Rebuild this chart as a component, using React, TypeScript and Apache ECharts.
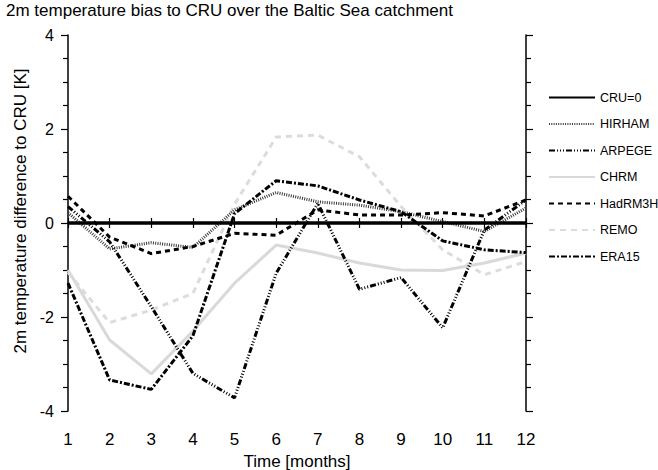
import React, { useEffect, useRef } from "react";
import * as echarts from "echarts";

const months = [1, 2, 3, 4, 5, 6, 7, 8, 9, 10, 11, 12];
const cru = [0, 0, 0, 0, 0, 0, 0, 0, 0, 0, 0, 0];
const hirham = [0.22, -0.55, -0.42, -0.52, 0.28, 0.65, 0.45, 0.38, 0.24, 0.03, -0.18, 0.32];
const arpege = [0.35, -0.4, -1.78, -3.2, -3.72, -1.07, 0.42, -1.41, -1.16, -2.23, -0.15, 0.49];
const chrm = [-1.0, -2.49, -3.21, -2.3, -1.28, -0.47, -0.64, -0.85, -1.0, -1.01, -0.85, -0.64];
const hadrm3h = [0.57, -0.3, -0.65, -0.5, -0.22, -0.26, 0.28, 0.17, 0.17, 0.22, 0.15, 0.49];
const remo = [-1.05, -2.12, -1.85, -1.5, 0.4, 1.83, 1.87, 1.41, 0.35, -0.57, -1.1, -0.82];
const era15 = [-1.28, -3.34, -3.54, -2.4, 0.2, 0.9, 0.79, 0.49, 0.24, -0.38, -0.57, -0.63];
const yTicks = [-4, -2, 0, 2, 4];

const FONT = "Liberation Sans";

export default function App() {
  const ref = useRef<HTMLDivElement>(null);
  useEffect(() => {
    if (!ref.current) return;
    const chart = echarts.init(ref.current, null, { renderer: "svg" });
    const pts = (arr: number[]) => months.map((m, i) => [m, arr[i]]);
    const mk = (name: string, arr: number[], color: string, width: number, type: any, z = 2) => ({
      name,
      type: "line",
      data: pts(arr),
      showSymbol: false,
      symbol: "none",
      z,
      lineStyle: { color, width, type },
      itemStyle: { color },
    });
    const axisLine = { show: true, lineStyle: { color: "#000", width: 1.5 } };
    const tick = { show: true, length: 5, lineStyle: { color: "#000", width: 1.2 } };
    chart.setOption({
      animation: false,
      title: {
        text: "2m temperature bias to CRU over the Baltic Sea catchment",
        left: 6,
        top: 2,
        padding: 0,
        textStyle: { fontFamily: FONT, fontSize: 17, fontWeight: "normal", color: "#000" },
      },
      legend: {
        orient: "vertical",
        left: 548,
        top: 91,
        padding: 0,
        itemWidth: 46,
        itemHeight: 12,
        itemGap: 13.5,
        itemStyle: { opacity: 0 },
        textStyle: { fontFamily: FONT, fontSize: 12.5, color: "#000" },
        data: ["CRU=0", "HIRHAM", "ARPEGE", "CHRM", "HadRM3H", "REMO", "ERA15"],
      },
      grid: { left: 68, right: 132, top: 35, bottom: 59, containLabel: false, outerBoundsMode: "none" },
      xAxis: [
        {
          type: "value",
          min: 1,
          max: 12,
          interval: 1,
          axisLine,
          axisTick: tick,
          axisLabel: { margin: 20, fontFamily: FONT, fontSize: 17, color: "#000" },
          splitLine: { show: false },
          name: "Time [months]",
          nameLocation: "middle",
          nameGap: 42,
          nameTextStyle: { fontFamily: FONT, fontSize: 17, color: "#000" },
        },
        {
          type: "value",
          position: "top",
          min: 1,
          max: 12,
          interval: 1,
          axisLine,
          axisTick: tick,
          axisLabel: { show: false },
          splitLine: { show: false },
        },
      ],
      yAxis: [
        {
          type: "value",
          min: yTicks[0],
          max: yTicks[yTicks.length - 1],
          interval: 2,
          axisLine,
          axisTick: { show: true, length: 7, lineStyle: { color: "#000", width: 1.2 } },
          minorTick: { show: true, splitNumber: 4, length: 5, lineStyle: { color: "#000", width: 1.2 } },
          axisLabel: { margin: 14, fontFamily: FONT, fontSize: 16, color: "#000" },
          splitLine: { show: false },
          name: "2m temperature difference to CRU [K]",
          nameLocation: "middle",
          nameGap: 39,
          nameTextStyle: { fontFamily: FONT, fontSize: 17, color: "#000", padding: [0, 0, 0, 24] },
        },
        {
          type: "value",
          position: "right",
          min: yTicks[0],
          max: yTicks[yTicks.length - 1],
          interval: 2,
          axisLine,
          axisTick: { show: true, length: 7, lineStyle: { color: "#000", width: 1.2 } },
          minorTick: { show: true, splitNumber: 4, length: 5, lineStyle: { color: "#000", width: 1.2 } },
          axisLabel: { show: false },
          splitLine: { show: false },
        },
      ],
      series: [
        mk("CRU=0", cru, "#000", 3.5, "solid", 3),
        mk("HIRHAM", hirham, "#3a3a3a", 3, [1, 1.3]),
        mk("ARPEGE", arpege, "#000", 3, [6, 2, 1, 2, 1, 2, 1, 2]),
        mk("CHRM", chrm, "#d9d9d9", 3, "solid", 1),
        mk("HadRM3H", hadrm3h, "#000", 3, [5, 4]),
        mk("REMO", remo, "#dcdcdc", 3, [6, 5], 1),
        mk("ERA15", era15, "#000", 3, [6, 2, 2, 2]),
      ],
    });
    return () => chart.dispose();
  }, []);
  return <div ref={ref} style={{ position: "absolute", left: 0, top: 0, width: 658, height: 470 }} />;
}
